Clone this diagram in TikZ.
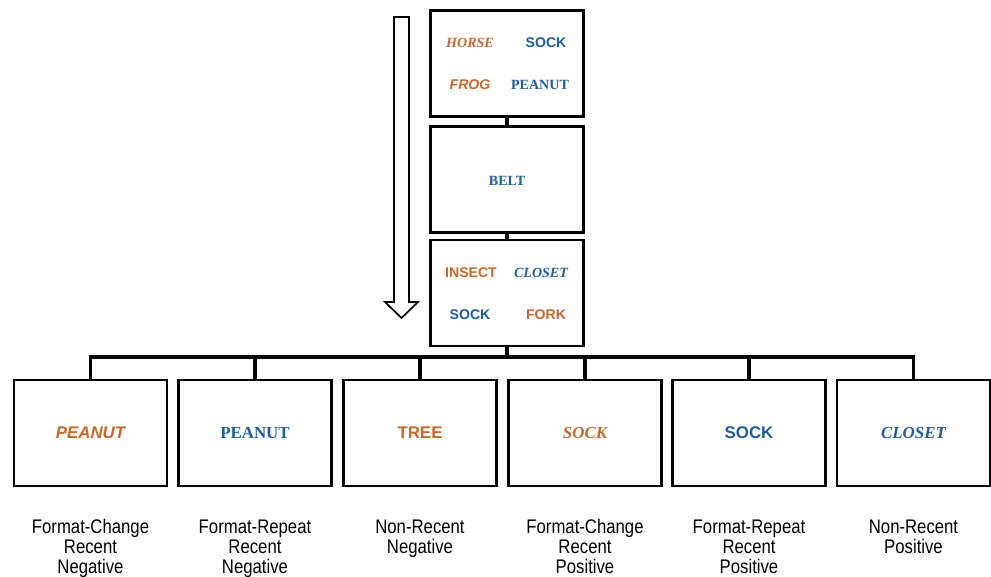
\documentclass[tikz,border=0pt]{standalone}
\usepackage{fontspec}
\setmainfont{Liberation Serif}
\setsansfont{Liberation Sans}
\newfontfamily\narrowsans[FakeStretch=0.85]{Liberation Sans}
\definecolor{WordOrange}{RGB}{204,102,38}
\definecolor{WordBlue}{RGB}{28,92,168}
\usetikzlibrary{positioning}

\tikzset{
  stimbox/.style={draw,line width=1.8pt,minimum width=3.825cm,minimum height=2.65cm,inner sep=0pt},
  link/.style={line width=2.4pt},
  sw/.style={font=\sffamily\bfseries\fontsize{#1}{#1}\selectfont},
  sw/.default=10,
  swi/.style={font=\sffamily\bfseries\itshape\fontsize{#1}{#1}\selectfont},
  swi/.default=10,
  rw/.style={font=\rmfamily\bfseries\fontsize{#1}{#1}\selectfont},
  rw/.default=10,
  rwi/.style={font=\rmfamily\bfseries\itshape\fontsize{#1}{#1}\selectfont},
  rwi/.default=10,
  condlabel/.style={font=\narrowsans\fontsize{14}{14.2}\selectfont,align=center,inner sep=0pt,anchor=north}
}

\begin{document}
\begin{tikzpicture}[x=0.025cm,y=-0.025cm]
\useasboundingbox (0,0) rectangle (991,577);

% time arrow
\draw[line width=1.2pt] (394,17) -- (409,17) -- (409,302) -- (418,302) -- (401.5,318)
  -- (385,302) -- (394,302) -- cycle;

% study list
\node[stimbox] (t1) at (507,63.5) {};
\node[stimbox] (t2) at (507,179.5) {};
\node[stimbox] (t3) at (507,293) {};
\node[rwi,WordOrange] at (470,43) {HORSE};
\node[sw,WordBlue] at (546,43) {SOCK};
\node[swi,WordOrange] at (470,85) {FROG};
\node[rw,WordBlue] at (540,85) {PEANUT};
\node[rw,WordBlue] at (507,181) {BELT};
\node[sw,WordOrange] at (471,273) {INSECT};
\node[rwi,WordBlue] at (541,273) {CLOSET};
\node[sw,WordBlue] at (470,315) {SOCK};
\node[sw,WordOrange] at (546,315) {FORK};

% probes
\node[stimbox] (b1) at (90.5,433) {};
\node[stimbox] (b2) at (255,433) {};
\node[stimbox] (b3) at (420,433) {};
\node[stimbox] (b4) at (585,433) {};
\node[stimbox] (b5) at (749,433) {};
\node[stimbox] (b6) at (913.5,433) {};
\node[swi=12,WordOrange] at (b1) {PEANUT};
\node[rw=12,WordBlue] at (b2) {PEANUT};
\node[sw=12,WordOrange] at (b3) {TREE};
\node[rwi=12,WordOrange] at (b4) {SOCK};
\node[sw=12,WordBlue] at (b5) {SOCK};
\node[rwi=12,WordBlue] at (b6) {CLOSET};

% connectors
\coordinate (bar) at (507,357);
\draw[link] (t1.south) -- (t2.north);
\draw[link] (t2.south) -- (t3.north);
\draw[link] (t3.south) -- (t3.south |- bar);
\draw[link] (b1.north) -- (b1.north |- bar) -- (b6.north |- bar) -- (b6.north);
\draw[link] (b2.north) -- (b2.north |- bar);
\draw[link] (b3.north) -- (b3.north |- bar);
\draw[link] (b4.north) -- (b4.north |- bar);
\draw[link] (b5.north) -- (b5.north |- bar);

% conditions
\node[condlabel,below=0.8cm of b1] (l1) {Format-Change\\Recent\\Negative};
\node[condlabel,below=0.8cm of b2] (l2) {Format-Repeat\\Recent\\Negative};
\node[condlabel,below=0.8cm of b3] (l3) {Non-Recent\\Negative};
\node[condlabel,below=0.8cm of b4] (l4) {Format-Change\\Recent\\Positive};
\node[condlabel,below=0.8cm of b5] (l5) {Format-Repeat\\Recent\\Positive};
\node[condlabel,below=0.8cm of b6] (l6) {Non-Recent\\Positive};
\end{tikzpicture}
\end{document}
